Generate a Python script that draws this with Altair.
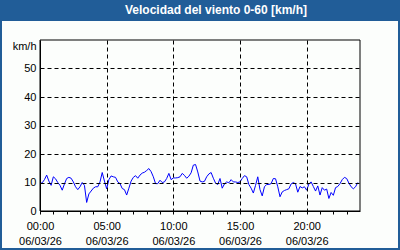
import altair as alt
import pandas as pd

# wind speed [km/h], 10-minute samples from 06/03/26 00:00 to 23:50
wind_kmh = [
    9.6, 9.9, 11.0, 12.6, 10.5, 9.0, 12.0, 11.3, 10.0, 9.0,
    7.3, 9.5, 11.4, 11.8, 11.5, 10.2, 8.5, 7.5, 8.5, 10.0,
    9.0, 3.0, 6.0, 7.0, 8.0, 8.5, 8.5, 10.2, 13.5, 10.5,
    7.8, 11.0, 12.3, 12.0, 11.8, 10.2, 9.6, 7.9, 7.5, 5.6,
    8.0, 10.5, 11.8, 12.4, 11.5, 12.6, 13.3, 13.6, 14.2, 14.9,
    13.8, 12.0, 9.6, 9.6, 10.8, 10.0, 10.2, 11.4, 13.2, 11.0,
    11.6, 11.6, 11.7, 12.0, 13.2, 12.5, 11.5, 12.2, 13.4, 16.1,
    16.3, 13.7, 10.5, 10.2, 10.4, 12.0, 13.0, 13.5, 11.5, 9.8,
    9.3, 11.4, 8.0, 9.5, 10.2, 9.9, 11.0, 10.2, 10.2, 10.0,
    10.2, 11.4, 12.4, 12.0, 9.3, 8.0, 6.3, 9.0, 12.0, 7.5,
    5.3, 8.5, 9.3, 9.3, 9.6, 11.4, 11.3, 8.5, 5.0, 6.7,
    7.2, 7.5, 7.8, 9.5, 10.0, 9.5, 6.6, 8.6, 8.1, 8.5,
    7.3, 9.5, 10.2, 8.6, 7.0, 8.8, 5.6, 8.2, 7.3, 7.7,
    4.4, 6.5, 5.5, 8.2, 8.6, 9.6, 11.0, 11.8, 11.4, 9.8,
    8.5, 7.8, 8.5, 10.0,
]
times = pd.date_range("2026-03-06 00:00", periods=len(wind_kmh), freq="10min")
y_ticks = [0, 10, 20, 30, 40, 50]
hour_ticks = list(range(24))
title_text = "Velocidad del viento 0-60 [km/h]"
y_unit = "km/h"

df = pd.DataFrame({"time": times, "v": wind_kmh})

FRAME_BLUE = "#215D98"
PAPER = "#FCFEFC"
FONT = "Liberation Sans"

x_enc = alt.X(
    "time:T",
    scale=alt.Scale(
        domain=[alt.DateTime(year=2026, month=3, date=6, hours=0),
                alt.DateTime(year=2026, month=3, date=7, hours=0)]
    ),
    axis=alt.Axis(
        title=None,
        zindex=1,
        values=[alt.DateTime(year=2026, month=3, date=6, hours=h) for h in hour_ticks],
        labelExpr="hours(datum.value) % 5 == 0 ? [timeFormat(datum.value, '%H:%M'), timeFormat(datum.value, '%d/%m/%y')] : ''",
        labelLineHeight=15,
        labelBaseline="top",
        labelPadding=6,
        labelOverlap=False,
        labelFlush=False,
        labelFont=FONT,
        labelFontSize=11,
        labelColor="black",
        domainColor="black",
        ticks=True,
        tickSize=3,
        tickColor="black",
        grid=True,
        gridDash=[4, 3],
        gridColor="black",
        gridOpacity={"condition": {"test": "hours(datum.value) % 5 == 0 && hours(datum.value) > 0", "value": 1}, "value": 0},
    ),
)

y_enc = alt.Y(
    "v:Q",
    scale=alt.Scale(domain=[0, 60], nice=False),
    axis=alt.Axis(
        zindex=1,
        values=y_ticks,
        title=y_unit,
        titleAngle=0,
        titleX=-4,
        titleY=6,
        titleAlign="right",
        titleBaseline="middle",
        titleFontWeight="normal",
        titleFont=FONT,
        titleFontSize=11,
        titleColor="black",
        labelFont=FONT,
        labelFontSize=11,
        labelColor="black",
        domainColor="black",
        ticks=False,
        tickSize=0,
        labelPadding=4,
        grid=True,
        gridDash=[4, 3],
        gridColor="black",
        gridOpacity={"condition": {"test": "datum.value > 0", "value": 1}, "value": 0},
    ),
)

one = pd.DataFrame({"k": [0]})

paper = alt.Chart(one).mark_rect(fill=PAPER, stroke=None).encode(
    x=alt.value(-38), x2=alt.value(358), y=alt.value(-19), y2=alt.value(208)
)

line = alt.Chart(df).mark_line(color="#0000FF", strokeWidth=1).encode(x=x_enc, y=y_enc)

border = alt.Chart(one).mark_rect(fill=None, stroke="black", strokeWidth=1).encode(
    x=alt.value(0), x2=alt.value(320), y=alt.value(0), y2=alt.value(171)
)

title = alt.Chart(pd.DataFrame({"t": [title_text]})).mark_text(
    font=FONT, fontSize=12, fontWeight="bold", color="white", align="center", baseline="middle"
).encode(text="t:N", x=alt.value(176), y=alt.value(-30))

chart = alt.layer(paper, line, border, title).properties(
    width=320,
    height=171,
    background=FRAME_BLUE,
    padding={"left": 40, "top": 40, "right": 40, "bottom": 39},
    autosize=alt.AutoSizeParams(type="none"),
).configure_view(stroke=None)

chart.save("out.html", embed_options={"renderer": "svg", "actions": False})
